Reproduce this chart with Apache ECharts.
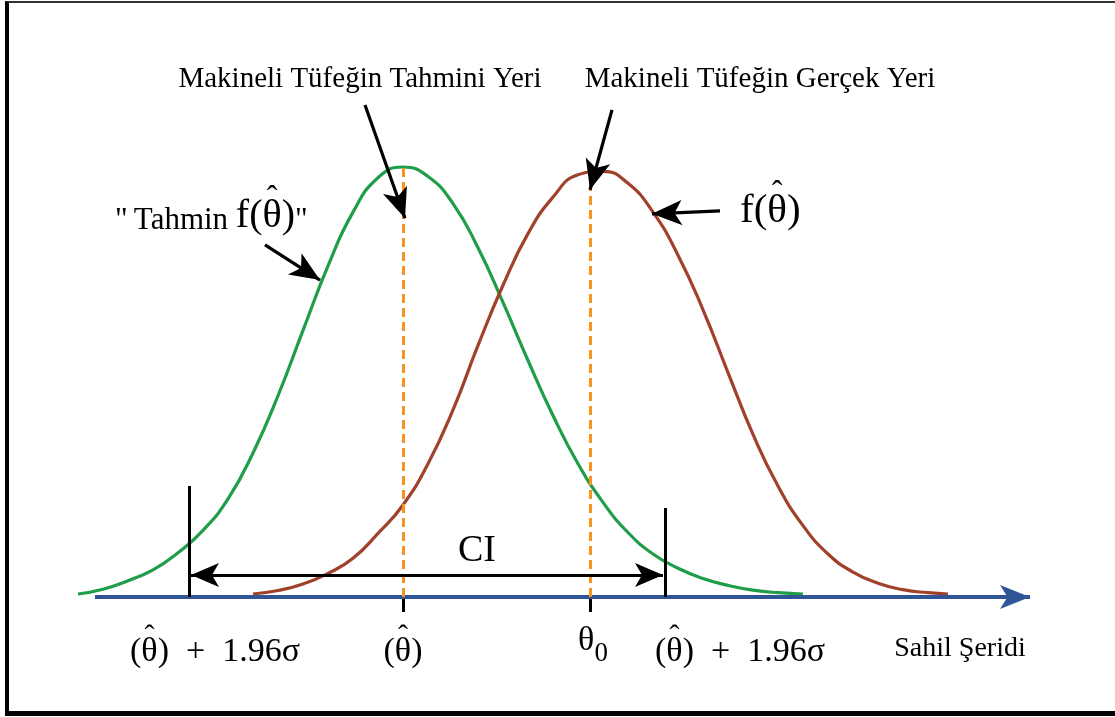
<!DOCTYPE html>
<html>
<head>
<meta charset="utf-8">
<script src="https://cdn.jsdelivr.net/npm/echarts@6/dist/echarts.min.js"></script>
<style>
  html, body { margin: 0; padding: 0; background: #fff; }
  #chart { position: absolute; left: 0; top: 0; width: 1115px; height: 717px; }
  #frame { position: absolute; left: 5px; top: 1px; width: 1115px; height: 715px; box-sizing: border-box;
           border-top: 2px solid #333; border-left: 4px solid #000; border-bottom: 5px solid #000; pointer-events: none; }
</style>
</head>
<body>
<div id="chart"></div>
<div id="frame"></div>
<script>
// ---- data ----
const thetaHat = 0;      // estimated position
const theta0 = 1.87;     // true position
const ciLow = -2.14;     // lower CI bound
const ciHigh = 2.62;     // upper CI bound
const axisStart = -3.08, axisEnd = 6.27;

// "Tahmin f(θ̂)" – green curve
const greenX = [-3.25, -3.0, -2.75, -2.5, -2.25, -2.0, -1.75, -1.5, -1.25, -1.0, -0.75, -0.5, -0.25, 0, 0.25, 0.5, 0.75, 1.0, 1.25, 1.5, 1.75, 2.0, 2.25, 2.5, 2.75, 3.0, 3.25, 3.5, 3.75, 4.0];
const greenY = [0.007, 0.018, 0.038, 0.063, 0.103, 0.155, 0.228, 0.335, 0.468, 0.620, 0.770, 0.895, 0.975, 1.0, 0.978, 0.915, 0.812, 0.685, 0.550, 0.422, 0.310, 0.220, 0.150, 0.100, 0.067, 0.043, 0.027, 0.016, 0.010, 0.007];

// f(θ̂) – brown curve
const brownX = [-1.5, -1.25, -1.0, -0.75, -0.5, -0.25, 0, 0.25, 0.5, 0.75, 1.0, 1.25, 1.5, 1.75, 2.0, 2.25, 2.5, 2.75, 3.0, 3.25, 3.5, 3.75, 4.0, 4.25, 4.5, 4.75, 5.0, 5.25, 5.45];
const brownY = [0.007, 0.015, 0.030, 0.055, 0.090, 0.148, 0.214, 0.310, 0.435, 0.585, 0.725, 0.845, 0.930, 0.982, 0.990, 0.962, 0.895, 0.795, 0.668, 0.522, 0.378, 0.258, 0.166, 0.100, 0.058, 0.032, 0.017, 0.010, 0.007];

const tickValues = [thetaHat, theta0];
const tickLabels = ['(\u03b8\u0302)', '\u03b8\u2080'];
const axisName = 'Sahil \u015eeridi';
const labelEstimated = 'Makineli T\u00fcfe\u011fin Tahmini Yeri';
const labelTrue = 'Makineli T\u00fcfe\u011fin Ger\u00e7ek Yeri';

// ---- chart ----
const SERIF = 'Liberation Serif';
const TXT = '#000';
const GREEN = '#1f9d48';
const BROWN = '#a0412b';
const ORANGE = '#f7931e';
const BLUE = '#2f5597';
const TH = '\u03b8', HAT = '\u02c6';

const zip = (xs, ys) => xs.map((x, i) => [x, ys[i]]);
const greenPeak = Math.max(...greenY);
const brownPeak = Math.max(...brownY);

const ctx = document.createElement('canvas').getContext('2d');
function tw(text, size) { ctx.font = size + 'px "' + SERIF + '"'; return ctx.measureText(text).width; }

// segments: [text, size, hatted?]; two-line rich text with a circumflex over the hatted segment
function hatted(segs, hatSize) {
  let x = 0, gap = 0;
  const body = segs.map(([t, s, h]) => {
    const w = tw(t, s);
    if (h) gap = x + w / 2 - tw(HAT, hatSize) / 2;
    x += w;
    return '{s' + s + '|' + t + '}';
  }).join('');
  const hw = tw(HAT, hatSize);
  const rest = Math.max(x - gap - hw, 0);
  const rich = {
    g: { width: Math.max(gap, 0), lineHeight: 2, fontSize: hatSize, fontFamily: SERIF },
    r: { width: rest, lineHeight: 2, fontSize: hatSize, fontFamily: SERIF },
    hat: { fontSize: hatSize, lineHeight: 2, fontFamily: SERIF, color: TXT }
  };
  segs.forEach(([t, s]) => {
    rich['s' + s] = { fontSize: s, fontFamily: SERIF, color: TXT, lineHeight: Math.round(s * 0.92), verticalAlign: 'bottom' };
  });
  return { text: '{g| }{hat|' + HAT + '}{r| }\n' + body, rich };
}

const ciLbl = hatted([['(', 34], [TH, 34, true], [')\u2002+\u20021.96\u03c3', 34]], 30);
const hatLbl = hatted([['(', 34], [TH, 34, true], [')', 34]], 30);
const fLbl = hatted([['f(', 41], [TH, 41, true], [')', 41]], 32);
const tahminLbl = hatted([['"\u2009Tahmin ', 31], ['f(', 40], [TH, 40, true], [')', 40], ['"', 31]], 32);
const theta0Lbl = {
  text: '{t|' + TH + '}{z|0}',
  rich: {
    t: { fontFamily: SERIF, fontSize: 34, color: TXT, lineHeight: 34, verticalAlign: 'top' },
    z: { fontFamily: SERIF, fontSize: 27, color: TXT, lineHeight: 34, verticalAlign: 'top', padding: [17, 0, 0, 0] }
  }
};
const tickLbls = [hatLbl, theta0Lbl];

const textItems = [
  { value: [-0.43, 1.204], text: labelEstimated, size: 29, align: 'center' },
  { value: [3.57, 1.204], text: labelTrue, size: 29, align: 'center' },
  { value: [0.74, 0.108], text: 'CI', size: 38, align: 'center' },
  { value: [ciLow + 0.26, -0.129], lbl: ciLbl, align: 'center' },
  { value: [ciHigh + 0.75, -0.129], lbl: ciLbl, align: 'center' },
  { value: [tickValues[0], -0.129], lbl: tickLbls[0], align: 'center' },
  { value: [tickValues[1] + 0.03, -0.102], lbl: tickLbls[1], align: 'center' },
  { value: [5.57, -0.119], text: axisName, size: 28, align: 'center' },
  { value: [3.37, 0.895], lbl: fLbl, align: 'left' },
  { value: [-2.88, 0.884], lbl: tahminLbl, align: 'left' }
];

const chart = echarts.init(document.getElementById('chart'), null, { renderer: 'canvas' });

const option = {
  animation: false,
  backgroundColor: '#fff',
  grid: { left: 40, right: 70, top: 16.5, bottom: 12.5, containLabel: false, outerBoundsMode: 'none' },
  xAxis: {
    type: 'value', min: -3.63, max: 6.42,
    splitLine: { show: false },
    axisLine: { show: false, onZero: true },
    axisTick: { show: true, customValues: tickValues, length: 15, inside: false,
                lineStyle: { color: '#000', width: 3 } },
    axisLabel: { show: false }
  },
  yAxis: { type: 'value', min: -0.25, max: 1.35, show: false, splitLine: { show: false } },
  series: [
    {
      name: 'Sahil Şeridi', type: 'line', data: [], z: 2,
      markLine: {
        silent: true, symbol: ['none', 'arrow'], symbolSize: [18, 30], label: { show: false },
        lineStyle: { color: BLUE, width: 4, type: 'solid' },
        data: [[{ coord: [axisStart, 0] }, { coord: [axisEnd, 0] }]]
      }
    },
    {
      name: 'Tahmin f(θ̂)', type: 'line', data: zip(greenX, greenY), smooth: 0.5, symbol: 'none', clip: false,
      lineStyle: { color: GREEN, width: 3.2 }, z: 3
    },
    {
      name: 'f(θ̂)', type: 'line', data: zip(brownX, brownY), smooth: 0.5, symbol: 'none', clip: false,
      lineStyle: { color: BROWN, width: 3.2 }, z: 3
    },
    {
      name: 'positions', type: 'line', data: [], z: 4,
      markLine: {
        silent: true, symbol: ['none', 'none'], label: { show: false },
        lineStyle: { color: ORANGE, width: 3, type: [9, 5] },
        data: [
          [{ coord: [thetaHat, 0] }, { coord: [thetaHat, greenPeak] }],
          [{ coord: [theta0, 0] }, { coord: [theta0, brownPeak] }]
        ]
      }
    },
    {
      name: 'ci', type: 'line', data: [], z: 5,
      markLine: {
        silent: true, symbol: ['none', 'none'], label: { show: false },
        lineStyle: { color: '#000', width: 3, type: 'solid' },
        data: [
          [{ coord: [ciLow, 0] }, { coord: [ciLow, 0.258] }],
          [{ coord: [ciHigh, 0] }, { coord: [ciHigh, 0.207] }],
          [{ coord: [ciLow + 0.02, 0.051], symbol: 'arrow', symbolSize: [18, 28] },
           { coord: [ciHigh - 0.02, 0.051], symbol: 'arrow', symbolSize: [18, 28] }]
        ]
      }
    },
    {
      name: 'pointers', type: 'line', data: [], z: 6,
      markLine: {
        silent: true, symbol: ['none', 'arrow'], symbolSize: [19, 30], label: { show: false },
        lineStyle: { color: '#000', width: 3.2, type: 'solid' },
        data: [
          [{ coord: [-0.38, 1.144] }, { coord: [0.02, 0.881] }],
          [{ coord: [2.09, 1.133] }, { coord: [1.87, 0.947] }],
          [{ coord: [-1.38, 0.819] }, { coord: [-0.83, 0.737] }],
          [{ coord: [3.17, 0.898] }, { coord: [2.49, 0.891] }]
        ]
      }
    },
    {
      name: 'texts', type: 'scatter', symbolSize: 0, silent: true, z: 7,
      itemStyle: { opacity: 1 },
      data: textItems.map(t => ({
        value: t.value,
        label: {
          show: true,
          position: t.align === 'left' ? 'right' : 'inside',
          distance: 0,
          formatter: t.lbl ? t.lbl.text : t.text,
          fontFamily: SERIF, fontSize: t.size || 30, color: TXT, opacity: 1,
          rich: t.lbl ? t.lbl.rich : {}
        }
      }))
    }
  ]
};
chart.setOption(option);
</script>
</body>
</html>
